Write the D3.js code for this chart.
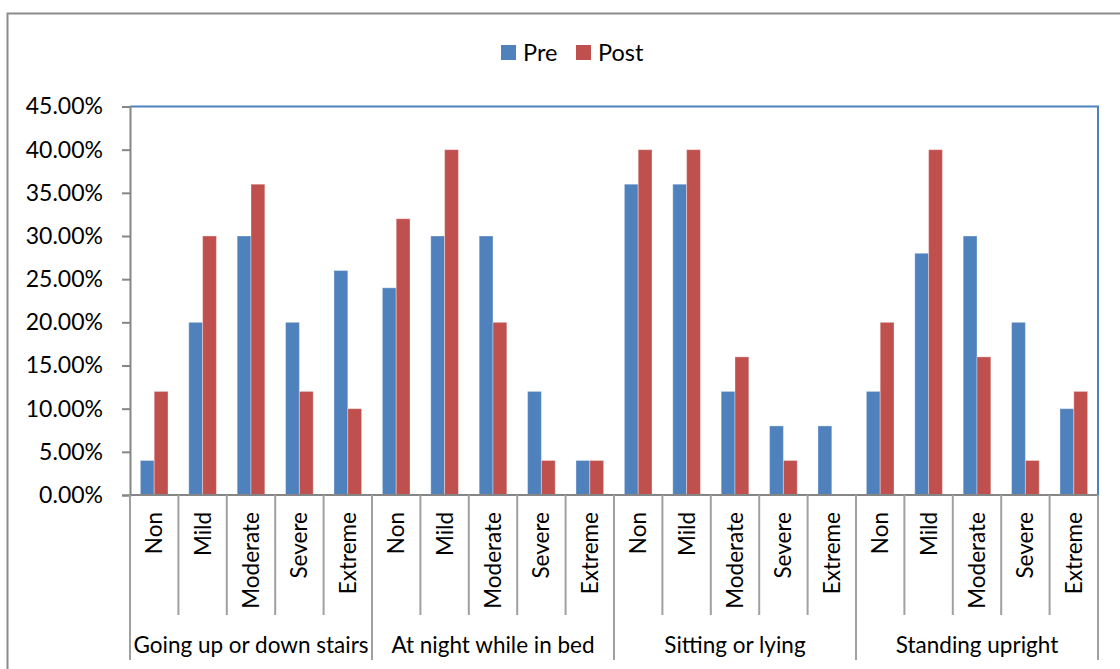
<!DOCTYPE html>
<html>
<head>
<meta charset="utf-8">
<script src="https://cdn.jsdelivr.net/npm/d3@7"></script>
<style>
  html, body { margin: 0; padding: 0; background: #fff; }
  svg { display: block; }
  text { font-family: Lato, "Open Sans", sans-serif; fill: #000; }
</style>
</head>
<body>
<svg id="chart" width="1120" height="669"></svg>
<script>
// Pain levels per activity, before and after treatment (share of patients, %)
const groups = ["Going up or down stairs", "At night while in bed", "Sitting or lying", "Standing upright"];
const levels = ["Non", "Mild", "Moderate", "Severe", "Extreme"];
const seriesNames = ["Pre", "Post"];
const preValues  = [4, 20, 30, 20, 26,  24, 30, 30, 12, 4,  36, 36, 12, 8, 8,  12, 28, 30, 20, 10];
const postValues = [12, 30, 36, 12, 10, 32, 40, 20, 4, 4,  40, 40, 16, 4, 0,  20, 40, 16, 4, 12];
const yTicks = [0, 5, 10, 15, 20, 25, 30, 35, 40, 45];

const colors = { Pre: "#4F81BD", Post: "#C0504D" };

const svg = d3.select("#chart");
const W = 1120, H = 669;
const plot = { left: 130, right: 1098, top: 106.5, bottom: 495 };

// chart frame
svg.append("path")
  .attr("d", `M7.5,${H} V13.5 H${W}`)
  .attr("fill", "none")
  .attr("stroke", "#8c8c8c")
  .attr("stroke-width", 2);

// flat category list: one slot per (group, level)
const cats = [];
groups.forEach((g, gi) => levels.forEach((l, li) => cats.push({ key: gi + "-" + li, group: g, level: l, i: cats.length })));

const x = d3.scaleBand()
  .domain(cats.map(c => c.key))
  .range([plot.left, plot.right])
  .paddingInner(0)
  .paddingOuter(0);

const xInner = d3.scaleBand()
  .domain(seriesNames)
  .range([0, x.bandwidth()])
  .paddingInner(0)
  .paddingOuter(0.75);   // 150% gap width split on both sides

const y = d3.scaleLinear().domain([0, 45]).range([plot.bottom, plot.top]);

// plot area border (top and right)
svg.append("path")
  .attr("d", `M${plot.left},${plot.top} H${plot.right} V${plot.bottom}`)
  .attr("fill", "none")
  .attr("stroke", "#4F81BD")
  .attr("stroke-width", 2);

// bars
const data = cats.map((c, i) => ({ ...c, Pre: preValues[i], Post: postValues[i] }));
const catG = svg.append("g").selectAll("g")
  .data(data)
  .join("g")
  .attr("transform", d => `translate(${x(d.key)},0)`);

catG.selectAll("rect")
  .data(d => seriesNames.map(s => ({ s, v: d[s] })))
  .join("rect")
  .attr("x", d => xInner(d.s))
  .attr("width", xInner.bandwidth())
  .attr("y", d => y(d.v))
  .attr("height", d => y(0) - y(d.v))
  .attr("fill", d => colors[d.s])
  .attr("stroke", d => d.v > 0 ? "rgba(255,255,255,0.35)" : "none")
  .attr("stroke-width", 1);

// y axis
const yAxis = svg.append("g")
  .attr("transform", `translate(${plot.left},0)`)
  .call(d3.axisLeft(y).tickValues(yTicks).tickSize(8).tickPadding(19)
    .tickFormat(d => d.toFixed(2) + "%"));
yAxis.select(".domain").attr("stroke", "#868686").attr("stroke-width", 2);
yAxis.selectAll(".tick line").attr("stroke", "#868686").attr("stroke-width", 2);
yAxis.selectAll(".tick text")
  .style("font-family", "Lato, 'Open Sans', sans-serif")
  .style("font-size", "23px")
  .attr("fill", "#000");

// x axis baseline
svg.append("line")
  .attr("x1", plot.left).attr("x2", plot.right)
  .attr("y1", plot.bottom).attr("y2", plot.bottom)
  .attr("stroke", "#868686").attr("stroke-width", 2);

// category separators: short between levels, long between groups
const levelTickBottom = 615, groupTickBottom = 660;
const bounds = d3.range(cats.length + 1);
svg.append("g").selectAll("line")
  .data(bounds)
  .join("line")
  .attr("x1", i => i < cats.length ? x(cats[i].key) : plot.right)
  .attr("x2", i => i < cats.length ? x(cats[i].key) : plot.right)
  .attr("y1", plot.bottom)
  .attr("y2", i => i % levels.length === 0 ? groupTickBottom : levelTickBottom)
  .attr("stroke", "#a0a0a0")
  .attr("stroke-width", 2);

// level labels (rotated)
svg.append("g").selectAll("text")
  .data(cats)
  .join("text")
  .attr("transform", d => `translate(${x(d.key) + x.bandwidth() / 2 + 8},512) rotate(-90)`)
  .attr("text-anchor", "end")
  .style("font-size", "22.5px")
  .text(d => d.level);

// group labels
svg.append("g").selectAll("text")
  .data(groups)
  .join("text")
  .attr("x", (g, gi) => (x(cats[gi * levels.length].key) + (gi < groups.length - 1 ? x(cats[(gi + 1) * levels.length].key) : plot.right)) / 2)
  .attr("y", 653)
  .attr("text-anchor", "middle")
  .style("font-size", "22.5px")
  .text(d => d);

// legend
const legend = svg.append("g").attr("transform", "translate(501,45)");
const legendX = [0, 75];
seriesNames.forEach((s, i) => {
  const g = legend.append("g").attr("transform", `translate(${legendX[i]},0)`);
  g.append("rect").attr("width", 15).attr("height", 15).attr("fill", colors[s]);
  g.append("text").attr("x", 22).attr("y", 16).style("font-size", "23.5px").text(s);
});
</script>
</body>
</html>
